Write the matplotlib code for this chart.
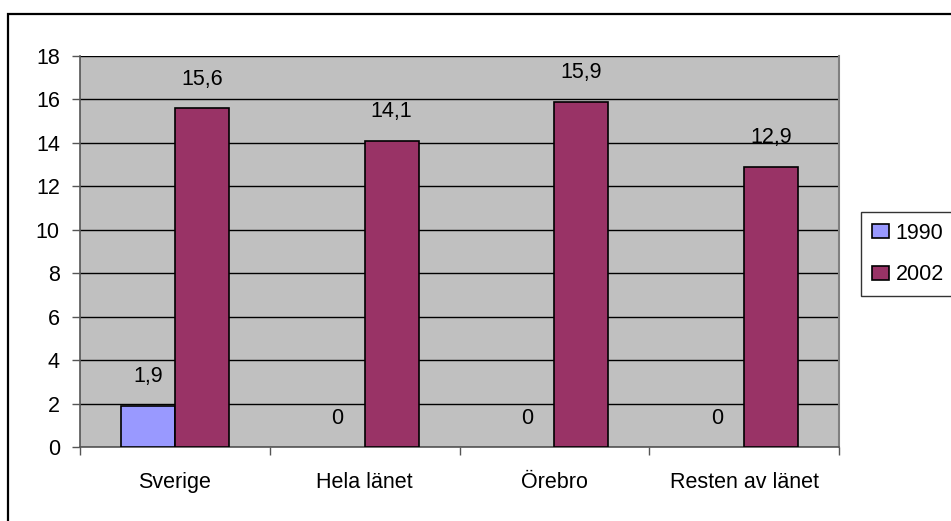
import matplotlib
matplotlib.use("Agg")
import matplotlib.pyplot as plt
from matplotlib.patches import Rectangle
import numpy as np

plt.rcParams['font.family'] = ['Liberation Sans', 'DejaVu Sans']

categories = ["Sverige", "Hela länet", "Örebro", "Resten av länet"]
series_names = ["1990", "2002"]
values_1990 = [1.9, 0, 0, 0]
values_2002 = [15.6, 14.1, 15.9, 12.9]
yticks = [0, 2, 4, 6, 8, 10, 12, 14, 16, 18]

FS = 15.5
W, H = 951, 521
fig = plt.figure(figsize=(W / 100, H / 100), dpi=100)
fig.patch.set_facecolor('white')

# outer chart border
fig.add_artist(Rectangle((8 / W, -0.05), 1.1, (H - 14) / H + 0.05, transform=fig.transFigure,
                         fill=False, edgecolor='black', linewidth=1.6))

left, right, top, bottom = 80, 839, 56, 447
ax = fig.add_axes([left / W, 1 - bottom / H, (right - left) / W, (bottom - top) / H])
ax.set_facecolor('#C0C0C0')

x = np.arange(len(categories))
w = 0.284
b1 = ax.bar(x - w / 2, values_1990, w, color='#9999FF', edgecolor='black', linewidth=1.2, label=series_names[0], zorder=3)
b2 = ax.bar(x + w / 2, values_2002, w, color='#993366', edgecolor='black', linewidth=1.2, label=series_names[1], zorder=3)
for rect, v in zip(b1, values_1990):
    if v == 0:
        rect.set_linewidth(0)

for xs, vals in ((x - w / 2, values_1990), (x + w / 2, values_2002)):
    for xi, v in zip(xs, vals):
        ax.annotate(f"{v:g}".replace('.', ','), (xi, v), xytext=(0, 29), textcoords='offset pixels',
                    ha='center', va='center', fontsize=FS)

ax.set_xlim(-0.5, len(categories) - 0.5)
ax.set_ylim(0, 18)
ax.set_yticks(yticks)
ax.set_yticklabels([str(t) for t in yticks], fontsize=FS)
ax.yaxis.grid(True, color='black', linewidth=1.0, zorder=1)
ax.set_axisbelow(True)

ax.set_xticks(x)
ax.set_xticklabels(categories, fontsize=FS)
ax.tick_params(axis='x', length=0, pad=18)
ax.set_xticks(np.arange(-0.5, len(categories)), minor=True)
ax.tick_params(axis='x', which='minor', length=6, width=1.0, direction='out', color='#555555')
ax.tick_params(axis='y', length=6, width=1.0, direction='out', pad=8.5, color='#555555')

ax.spines['top'].set_visible(False)
ax.spines['right'].set_color('#808080')
ax.spines['right'].set_linewidth(1.5)
ax.spines['left'].set_color('#555555')
ax.spines['bottom'].set_color('#555555')
ax.spines['left'].set_linewidth(1.2)
ax.spines['bottom'].set_linewidth(1.2)

leg = fig.legend(handles=[b1, b2], labels=series_names, loc='upper left',
                 bbox_to_anchor=(861 / W, 1 - 212 / H), fontsize=FS, frameon=True,
                 fancybox=False, handlelength=0.78, handleheight=0.64, handletextpad=0.32,
                 borderpad=0.5, labelspacing=0.95, borderaxespad=0)
leg.get_frame().set_edgecolor('black')
leg.get_frame().set_linewidth(1.0)

fig.savefig('out.png', dpi=100, facecolor='white')
